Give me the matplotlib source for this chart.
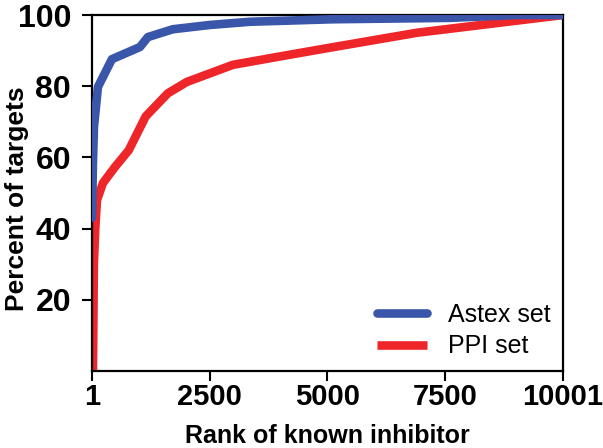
import matplotlib
matplotlib.use("Agg")
import matplotlib.pyplot as plt

plt.rcParams['font.family'] = ['Liberation Sans', 'DejaVu Sans']

astex_rank = [1, 20, 42, 127, 424, 1018, 1187, 1717, 2500, 3350, 5100, 7600, 9010, 10001]
astex_pct = [43, 58, 68.5, 79.8, 87.6, 91, 93.8, 96.0, 97.2, 98.1, 98.8, 99.2, 100, 100]

ppi_rank = [21, 40, 70, 106, 233, 488, 780, 1140, 1610, 2014, 2990, 4050, 5000, 6890, 10001]
ppi_pct = [0, 30, 40, 48, 52.8, 57.3, 62, 71.5, 78, 81.2, 86, 88.5, 90.7, 95.0, 100]

xticks = [1, 2500, 5000, 7500, 10001]
yticks = [20, 40, 60, 80, 100]

fig = plt.figure(figsize=(6.03, 4.48), dpi=100)
ax = fig.add_axes([0.1526, 0.1719, 0.7811, 0.7946])

ax.plot(astex_rank, astex_pct, color='#3A56AA', lw=6.2, label='Astex set', solid_capstyle='round', zorder=3)
ax.plot(ppi_rank, ppi_pct, color='#EE2529', lw=6.2, label='PPI set', solid_capstyle='butt', zorder=2)

ax.set_xlim(1, 10001)
ax.set_ylim(0, 100)
ax.set_xticks(xticks)
ax.set_xticklabels([str(t) for t in xticks])
ax.set_yticks(yticks)
ax.set_yticklabels([str(t) for t in yticks])
ax.tick_params(axis='both', direction='out', length=7, width=1.5)
ax.tick_params(axis='x', labelsize=21, pad=2)
ax.tick_params(axis='y', labelsize=23, pad=8)
for lab in ax.get_xticklabels() + ax.get_yticklabels():
    lab.set_fontweight('bold')
for s in ax.spines.values():
    s.set_linewidth(1.6)

ax.set_xlabel('Rank of known inhibitor', fontsize=18, fontweight='bold')
ax.set_ylabel('Percent of targets', fontsize=19, fontweight='bold')
ax.xaxis.set_label_coords(0.5, -0.149)
ax.yaxis.set_label_coords(-0.134, 0.485)

leg = ax.legend(loc='lower right', frameon=False, fontsize=18, handlelength=2.0,
                handletextpad=0.85, labelspacing=0.3, borderaxespad=0.1)

fig.savefig('out.png', dpi=100)
